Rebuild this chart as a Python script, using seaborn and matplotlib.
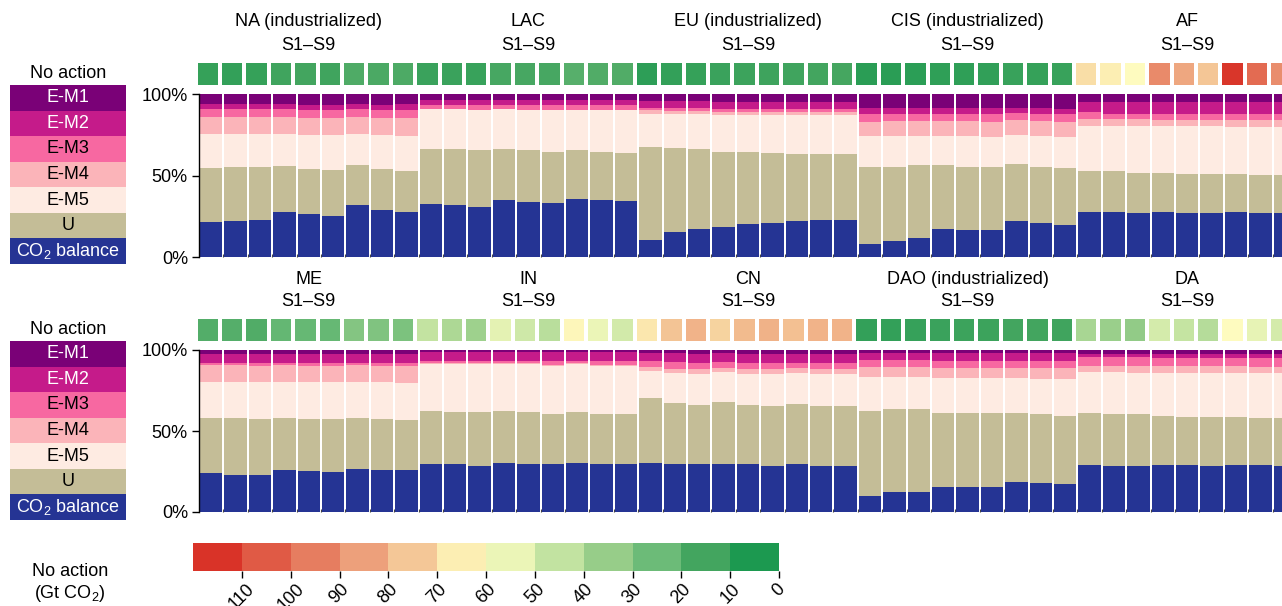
import numpy as np
import pandas as pd
import matplotlib
matplotlib.use("Agg")
import matplotlib.pyplot as plt
from matplotlib.colors import ListedColormap, LinearSegmentedColormap
from matplotlib.patches import Rectangle
from matplotlib import transforms
import seaborn as sns

# ---------------------------------------------------------------------------
# Regions (9 scenarios S1–S9 each) for the two panels
top_regions = ["NA (industrialized)", "LAC", "EU (industrialized)", "CIS (industrialized)", "AF"]
bottom_regions = ["ME", "IN", "CN", "DAO (industrialized)", "DA"]
scenario_label = "S1–S9"

layer_names = ["CO$_2$ balance", "U", "E-M5", "E-M4", "E-M3", "E-M2", "E-M1"]
layer_colors = ["#253494", "#c4bd97", "#feebe2", "#fbb4b9", "#f768a1", "#c51b8a", "#7a0177"]
layer_text = ["white", "black", "black", "black", "black", "white", "white"]

# Shares (%) of each component, top panel: NA | LAC | EU | CIS | AF
top_co2 = [21.3, 22.1, 22.7, 27.5, 26.2, 25.4, 31.6, 28.9, 27.5,
           32.4, 31.6, 30.7, 34.8, 33.6, 33.0, 35.5, 34.8, 34.2,
           10.7, 15.2, 17.2, 18.6, 20.1, 20.7, 22.1, 22.7, 22.7,
           7.8, 9.8, 11.9, 17.2, 16.6, 16.6, 22.1, 20.7, 19.5,
           27.5, 27.5, 26.8, 27.5, 26.8, 26.8, 27.5, 26.8, 26.8]
top_u = [33.2, 33.0, 32.4, 28.4, 27.7, 27.9, 25.0, 25.0, 25.2,
         33.8, 34.6, 34.7, 31.4, 31.8, 31.5, 29.9, 29.7, 29.7,
         56.7, 51.6, 49.0, 45.9, 44.4, 43.2, 41.2, 40.6, 40.6,
         47.3, 45.3, 44.7, 39.4, 38.5, 38.5, 35.1, 34.4, 35.0,
         25.2, 25.2, 25.0, 24.3, 24.4, 24.4, 23.7, 23.8, 23.8]
top_m5 = [21.1, 20.5, 20.5, 19.7, 21.1, 21.7, 19.0, 21.1, 21.7,
          24.4, 24.4, 24.6, 24.4, 24.6, 25.5, 24.6, 25.5, 26.1,
          20.3, 20.9, 21.5, 22.6, 22.6, 23.2, 23.8, 23.8, 23.8,
          19.1, 19.1, 17.6, 17.6, 19.1, 18.5, 17.8, 19.1, 19.1,
          27.6, 27.6, 28.5, 28.5, 29.1, 29.1, 28.5, 29.1, 29.1]
top_m4 = [10.3, 10.3, 10.3, 10.3, 10.2, 10.2, 10.3, 10.2, 10.8,
          0.4, 0.4, 0.4, 0.4, 0.4, 0.4, 0.4, 0.4, 0.4,
          2.5, 1.8, 1.8, 2.0, 2.0, 2.0, 2.0, 2.0, 1.8,
          8.4, 9.0, 9.0, 9.0, 9.0, 9.0, 8.8, 9.0, 9.0,
          4.3, 4.3, 4.3, 3.7, 3.7, 3.7, 4.3, 4.3, 4.3]
top_m3 = [4.7, 4.7, 4.7, 4.7, 4.8, 4.8, 4.7, 4.8, 5.0,
          2.2, 2.2, 2.8, 2.2, 2.8, 2.8, 2.8, 2.8, 2.8,
          1.4, 1.7, 1.7, 1.7, 1.7, 1.7, 1.7, 1.7, 1.9,
          5.1, 4.5, 4.5, 4.5, 4.5, 5.1, 4.7, 4.5, 5.1,
          4.1, 3.1, 3.1, 3.7, 3.7, 3.7, 3.7, 3.7, 3.7]
top_m2 = [3.3, 3.3, 3.3, 3.3, 3.5, 3.5, 3.3, 3.5, 3.7,
          3.1, 3.1, 3.1, 3.1, 3.1, 3.1, 3.1, 3.1, 3.1,
          4.1, 4.5, 4.5, 4.3, 4.3, 4.3, 4.3, 4.3, 4.3,
          3.5, 3.5, 3.5, 3.5, 3.5, 3.5, 2.7, 3.5, 2.9,
          6.6, 7.6, 7.6, 7.6, 7.6, 7.6, 7.6, 7.6, 7.6]
top_m1 = [6.1, 6.1, 6.1, 6.1, 6.5, 6.5, 6.1, 6.5, 6.1,
          3.7, 3.7, 3.7, 3.7, 3.7, 3.7, 3.7, 3.7, 3.7,
          4.3, 4.3, 4.3, 4.9, 4.9, 4.9, 4.9, 4.9, 4.9,
          8.8, 8.8, 8.8, 8.8, 8.8, 8.8, 8.8, 8.8, 9.4,
          4.7, 4.7, 4.7, 4.7, 4.7, 4.7, 4.7, 4.7, 4.7]

# Shares (%) of each component, bottom panel: ME | IN | CN | DAO | DA
bot_co2 = [23.8, 23.0, 23.0, 26.1, 25.5, 24.8, 26.7, 26.1, 26.1,
           29.6, 29.6, 28.7, 30.2, 29.6, 29.6, 30.2, 29.6, 29.6,
           30.2, 29.6, 29.6, 29.6, 29.6, 28.7, 29.6, 28.7, 28.7,
           9.7, 12.1, 12.3, 15.2, 15.2, 15.2, 18.7, 18.1, 17.5,
           29.2, 28.7, 28.7, 29.2, 29.2, 28.7, 29.2, 29.2, 28.7]
bot_u = [34.1, 34.9, 34.1, 31.8, 31.6, 32.3, 31.2, 31.0, 30.4,
         32.6, 32.0, 32.9, 32.0, 32.0, 31.2, 31.4, 31.2, 30.6,
         40.0, 37.8, 36.5, 38.6, 36.5, 36.8, 37.1, 36.8, 36.8,
         52.5, 51.6, 51.4, 45.8, 45.8, 45.8, 42.3, 42.1, 42.0,
         31.8, 31.5, 31.5, 30.3, 29.7, 30.2, 29.7, 29.1, 29.6]
bot_m5 = [22.6, 22.6, 23.4, 22.6, 23.4, 23.4, 22.6, 23.4, 23.4,
          29.4, 30.0, 30.0, 29.4, 30.0, 29.5, 30.0, 29.5, 30.1,
          17.1, 18.6, 19.1, 18.5, 19.1, 19.7, 19.3, 19.7, 19.7,
          21.4, 19.9, 19.9, 21.8, 21.8, 21.8, 21.8, 21.9, 22.6,
          25.4, 26.2, 25.4, 26.1, 26.7, 26.7, 26.7, 27.3, 27.3]
bot_m4 = [10.3, 10.3, 9.6, 10.3, 9.6, 9.6, 10.3, 9.6, 10.2,
          0.3, 0.3, 0.3, 0.3, 0.3, 0.3, 0.3, 0.3, 0.3,
          2.0, 2.1, 2.9, 2.0, 2.9, 2.9, 2.7, 2.9, 2.9,
          6.1, 6.1, 6.1, 6.1, 6.1, 6.1, 6.1, 6.8, 6.8,
          3.7, 3.7, 4.5, 4.5, 4.5, 4.5, 4.5, 3.7, 3.7]
bot_m3 = [1.4, 1.4, 1.7, 1.4, 1.7, 1.7, 1.4, 1.7, 1.7,
          1.1, 1.1, 1.1, 1.1, 1.1, 2.4, 1.1, 2.4, 2.4,
          4.1, 4.7, 4.1, 4.1, 4.1, 4.1, 3.5, 4.1, 4.1,
          4.1, 4.1, 4.1, 4.5, 4.5, 4.5, 4.5, 4.5, 4.5,
          5.4, 5.4, 5.4, 4.8, 4.8, 4.8, 4.8, 5.6, 5.6]
bot_m2 = [5.3, 5.3, 5.7, 5.3, 5.7, 5.7, 5.3, 5.7, 5.7,
          6.0, 6.0, 6.0, 6.0, 6.0, 6.0, 6.0, 6.0, 6.0,
          4.5, 5.1, 5.3, 5.1, 5.3, 5.3, 5.3, 5.3, 5.3,
          4.1, 4.1, 4.1, 4.5, 4.5, 4.5, 4.5, 4.5, 4.5,
          2.0, 2.0, 2.0, 2.6, 2.6, 2.6, 2.6, 2.6, 2.6]
bot_m1 = [2.5, 2.5, 2.5, 2.5, 2.5, 2.5, 2.5, 2.5, 2.5,
          1.0, 1.0, 1.0, 1.0, 1.0, 1.0, 1.0, 1.0, 1.0,
          2.1, 2.1, 2.5, 2.1, 2.5, 2.5, 2.5, 2.5, 2.5,
          2.1, 2.1, 2.1, 2.1, 2.1, 2.1, 2.1, 2.1, 2.1,
          2.5, 2.5, 2.5, 2.5, 2.5, 2.5, 2.5, 2.5, 2.5]

# Cumulative emissions without action (Gt CO2) per scenario
top_noaction = [11.4, 10.9, 11.4, 14.2, 15.0, 14.5, 18.2, 17.2, 17.7,
                12.7, 13.0, 12.2, 16.0, 16.0, 16.2, 20.1, 18.7, 18.7,
                9.6, 11.2, 11.7, 12.7, 13.5, 13.7, 14.2, 15.2, 15.5,
                8.6, 8.8, 9.1, 9.9, 10.1, 10.4, 12.2, 11.7, 12.4,
                69, 65, 60, 91, 83, 75, 114, 100, 90]
bot_noaction = [19.0, 19.5, 18.5, 23.3, 23.5, 23.8, 30.8, 29.7, 28.8,
                45, 40, 37, 53, 48, 43, 62, 55, 49,
                67, 75.5, 80, 72, 78, 80.5, 76.5, 80, 80,
                10.8, 11.2, 12.0, 12.7, 13.2, 13.5, 15.0, 15.0, 14.5,
                39, 36, 34, 49.5, 45.5, 42, 60, 54, 49.5]

# Colour scale for "No action" (Gt CO2), 0 = green ... 120 = red
scale_bounds = [0, 10, 20, 30, 40, 50, 60, 70, 80, 90, 100, 110, 120]
scale_colors = ["#1c9950", "#43a55f", "#6cbb78", "#97cd89", "#c2e3a1", "#ebf5b7",
                "#fceeb3", "#f4c797", "#eda07b", "#e67d60", "#e05a45", "#d93328"]
scale_ticklabels = ["110", "100", "90", "80", "70", "60", "50", "40", "30", "20", "10", "0"]

# ---------------------------------------------------------------------------
sns.set_theme(style="white")
plt.rcParams["font.family"] = ["Liberation Sans", "DejaVu Sans"]
plt.rcParams["mathtext.fontset"] = "custom"
plt.rcParams["mathtext.rm"] = "Liberation Sans"
plt.rcParams["mathtext.it"] = "Liberation Sans:italic"
plt.rcParams["mathtext.bf"] = "Liberation Sans:bold"
for key in ["text.color", "axes.labelcolor", "xtick.color", "ytick.color"]:
    plt.rcParams[key] = "black"
FS = 13

W, H = 1282, 606
fig = plt.figure(figsize=(W / 100, H / 100), dpi=100)


def px_axes(x0, y0, x1, y1):
    return fig.add_axes([x0 / W, 1 - y1 / H, (x1 - x0) / W, (y1 - y0) / H])


# continuous map for the scenario strips
vmax = scale_bounds[-1]
centers = [(a + b) / 2 for a, b in zip(scale_bounds[:-1], scale_bounds[1:])]
anchors = [(0.0, "#1a9850")] + [(c / vmax, col) for c, col in zip(centers, scale_colors)]
anchors.insert(7, (60 / vmax, "#fefcc0"))
anchors.append((1.0, "#d73027"))
strip_cmap = LinearSegmentedColormap.from_list("noaction", anchors)
binned_cmap = ListedColormap(scale_colors)


def draw_bars(ax, layers):
    frame = pd.DataFrame(dict(zip(layer_names, layers)))
    frame["pos"] = np.arange(len(frame))
    cum = frame[layer_names].cumsum(axis=1)
    for name, color in reversed(list(zip(layer_names, layer_colors))):
        sns.barplot(x=frame["pos"], y=cum[name], color=color, width=0.92,
                    saturation=1, linewidth=0, errorbar=None, ax=ax)
    n = len(frame)
    ax.set_xlim(-0.5, n - 0.5)
    ax.set_ylim(0, 100)
    ax.set_xlabel("")
    ax.set_ylabel("")
    ax.set_yticks([0, 50, 100])
    ax.set_yticklabels(["0%", "50%", "100%"])
    ax.set_xticks(np.arange(n - 1) + 0.5)
    ax.set_xticklabels([])
    for side in ["top", "right", "bottom"]:
        ax.spines[side].set_visible(False)
    ax.spines["left"].set_color("black")
    ax.spines["left"].set_linewidth(1.0)
    ax.tick_params(axis="y", left=True, length=5, width=1, color="black",
                   pad=3, labelsize=FS, labelcolor="black")
    ax.tick_params(axis="x", bottom=True, direction="in", length=2,
                   width=0.8, color="#444444")


def draw_strip(x0, y0, y1, values):
    sax = px_axes(x0, y0, x0 + 1098, y1)
    sns.heatmap(np.array([values]), cmap=strip_cmap, vmin=0, vmax=vmax, cbar=False,
                linewidths=1.5, linecolor="white", xticklabels=False,
                yticklabels=False, ax=sax)


def draw_labels(ax, regions, y1, y2):
    trans = transforms.blended_transform_factory(ax.transData, fig.transFigure)
    for k, reg in enumerate(regions):
        xc = 9 * k + 4
        ax.text(xc, 1 - y1 / H, reg, transform=trans, ha="center", va="center",
                fontsize=FS, color="black", clip_on=False)
        ax.text(xc, 1 - y2 / H, scenario_label, transform=trans, ha="center",
                va="center", fontsize=FS, color="black", clip_on=False)


def draw_key(y_top):
    fig.text(68 / W, 1 - (y_top - 11) / H, "No action", ha="center", va="center",
             fontsize=FS, color="black")
    kax = px_axes(10, y_top, 126, y_top + 179)
    kax.set_xlim(0, 1)
    kax.set_ylim(0, len(layer_names))
    kax.axis("off")
    for i, (name, color, tcol) in enumerate(zip(layer_names, layer_colors, layer_text)):
        kax.add_patch(Rectangle((0, i), 1, 1, facecolor=color, edgecolor="none"))
        kax.text(0.5, i + 0.5, name, ha="center", va="center", color=tcol, fontsize=FS)


# top panel
ax_top = px_axes(199, 94, 1297, 257)
draw_bars(ax_top, [top_co2, top_u, top_m5, top_m4, top_m3, top_m2, top_m1])
draw_strip(195.5, 60.5, 86.5, top_noaction)
draw_labels(ax_top, top_regions, 22, 46)
draw_key(85)

# bottom panel
ax_bot = px_axes(199, 350, 1297, 512)
draw_bars(ax_bot, [bot_co2, bot_u, bot_m5, bot_m4, bot_m3, bot_m2, bot_m1])
draw_strip(195.5, 316.5, 342.5, bot_noaction)
draw_labels(ax_bot, bottom_regions, 279, 302)
draw_key(341)

# colour scale
cax = px_axes(193, 543, 779, 571)
sns.heatmap(np.array([centers[::-1]]), cmap=binned_cmap, vmin=0, vmax=vmax,
            cbar=False, xticklabels=False, yticklabels=False, ax=cax)
cax.set_xticks(np.arange(1, len(centers) + 1))
cax.set_xticklabels(scale_ticklabels, rotation=45, ha="center", va="top",
                    color="black")
cax.set_yticks([])
cax.tick_params(axis="x", bottom=True, length=5, width=1, color="black",
                labelsize=FS, pad=2)
fig.text(70 / W, 1 - 584 / H, "No action\n(Gt CO$_2$)", ha="center", va="center",
         fontsize=FS, color="black")

fig.savefig("out.png", dpi=100)
